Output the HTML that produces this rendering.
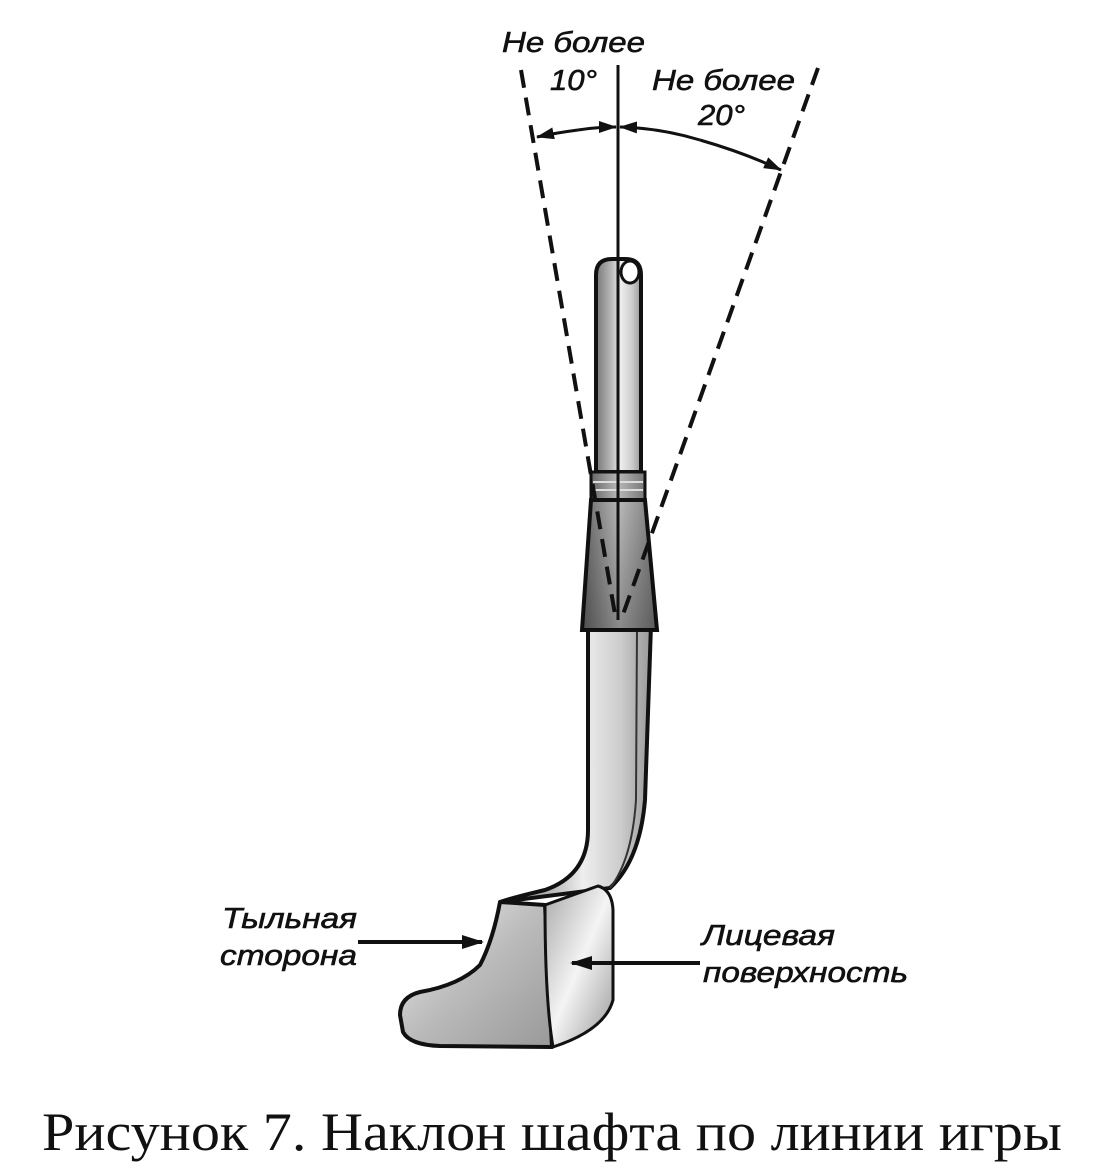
<!DOCTYPE html>
<html><head><meta charset="utf-8"><style>body{margin:0;background:#fff}svg{display:block}
.l{font-family:"Liberation Sans",sans-serif;font-style:italic;font-size:29px;fill:#111;stroke:#111;stroke-width:0.6px}
.c{font-family:"Liberation Serif",serif;font-size:54px;fill:#111}
</style></head><body>
<svg width="1119" height="1175" viewBox="0 0 1119 1175" xmlns="http://www.w3.org/2000/svg">
<defs>
<linearGradient id="g1" x1="0" x2="1" y1="0" y2="0"><stop offset="0" stop-color="#777"/><stop offset="0.35" stop-color="#bbb"/><stop offset="0.55" stop-color="#eee"/><stop offset="0.8" stop-color="#ccc"/><stop offset="1" stop-color="#999"/></linearGradient>
<linearGradient id="g2" x1="0" x2="1" y1="0" y2="0"><stop offset="0" stop-color="#666"/><stop offset="0.5" stop-color="#b8b8b8"/><stop offset="1" stop-color="#777"/></linearGradient>
<linearGradient id="g5" x1="0" x2="0" y1="0" y2="1"><stop offset="0" stop-color="#000" stop-opacity="0"/><stop offset="1" stop-color="#000" stop-opacity="0.25"/></linearGradient>
<linearGradient id="g3" x1="0" x2="1" y1="0" y2="1"><stop offset="0" stop-color="#eee"/><stop offset="0.5" stop-color="#bbb"/><stop offset="1" stop-color="#999"/></linearGradient>
<linearGradient id="g4" x1="0" x2="1" y1="0" y2="1"><stop offset="0" stop-color="#aaa"/><stop offset="0.5" stop-color="#f4f4f4"/><stop offset="1" stop-color="#999"/></linearGradient>
<marker id="ah" markerWidth="18" markerHeight="12" refX="17" refY="6" orient="auto" markerUnits="userSpaceOnUse"><path d="M0,0 L18,6 L0,12 z" fill="#111"/></marker>
<marker id="ah2" markerWidth="22" markerHeight="14" refX="20" refY="7" orient="auto" markerUnits="userSpaceOnUse"><path d="M0,0 L22,7 L0,14 z" fill="#111"/></marker>
</defs>
<path d="M588,625 L588,830 Q588,875 545,890 Q515,897 500,902 L610,888 Q640,860 645,800 L651,625 z" fill="url(#g1)" stroke="#111" stroke-width="4"/>
<path d="M637,628 L636,800 Q632,860 610,888" fill="none" stroke="#333" stroke-width="2"/>
<path d="M500,902 Q493,940 480,965 Q460,985 420,992 Q400,997 400,1015 L403,1032 Q410,1045 440,1046 L552,1047 L545,905 z" fill="url(#g3)" stroke="#111" stroke-width="4" stroke-linejoin="round"/>
<path d="M545,905 L598,886 Q612,890 613,910 L613,1000 Q605,1030 553,1047 Q545,1000 545,905 z" fill="url(#g4)" stroke="#111" stroke-width="3" stroke-linejoin="round"/>
<path d="M500,902 L545,905" stroke="#111" stroke-width="3"/>
<path d="M596,472 L596,275 Q596,259 612,259 L625,259 Q641,259 641,275 L641,472 z" fill="url(#g1)" stroke="#111" stroke-width="4"/>
<ellipse cx="630" cy="272" rx="9" ry="11" fill="#fff" stroke="#111" stroke-width="3"/>
<path d="M591,472 L645,472 L645,500 L591,500 z" fill="url(#g2)" stroke="#111" stroke-width="3"/>
<path d="M593,482 L643,482 M593,490 L643,490" stroke="#ddd" stroke-width="2"/>
<path d="M591,500 L645,500 L657,630 L582,630 z" fill="url(#g2)" stroke="#111" stroke-width="4"/>
<path d="M591,500 L645,500 L657,630 L582,630 z" fill="url(#g5)"/>
<line x1="618" y1="65" x2="618" y2="620" stroke="#111" stroke-width="3"/>
<line x1="521" y1="70" x2="616" y2="620" stroke="#111" stroke-width="4" stroke-dasharray="18,10"/>
<line x1="818" y1="68" x2="621" y2="620" stroke="#111" stroke-width="4" stroke-dasharray="18,10"/>
<path d="M578,130 Q598,127 616,127" fill="none" stroke="#111" stroke-width="3" marker-end="url(#ah)"/>
<path d="M578,130 Q555,133 537,137" fill="none" stroke="#111" stroke-width="3" marker-end="url(#ah)"/>
<path d="M700,140 Q660,128 620,127" fill="none" stroke="#111" stroke-width="3" marker-end="url(#ah)"/>
<path d="M700,140 Q745,153 781,170" fill="none" stroke="#111" stroke-width="3" marker-end="url(#ah)"/>
<line x1="358" y1="942" x2="482" y2="942" stroke="#111" stroke-width="4" marker-end="url(#ah2)"/>
<line x1="700" y1="963" x2="572" y2="963" stroke="#111" stroke-width="4" marker-end="url(#ah2)"/>
<text class="l" x="502" y="52" textLength="143" lengthAdjust="spacingAndGlyphs">Не более</text>
<text class="l" x="550" y="90" textLength="47" lengthAdjust="spacingAndGlyphs">10°</text>
<text class="l" x="652" y="90" textLength="143" lengthAdjust="spacingAndGlyphs">Не более</text>
<text class="l" x="698" y="125" textLength="47" lengthAdjust="spacingAndGlyphs">20°</text>
<text class="l" x="222" y="928" textLength="135" lengthAdjust="spacingAndGlyphs">Тыльная</text>
<text class="l" x="220" y="965" textLength="137" lengthAdjust="spacingAndGlyphs">сторона</text>
<text class="l" x="702" y="945" textLength="133" lengthAdjust="spacingAndGlyphs">Лицевая</text>
<text class="l" x="703" y="982" textLength="205" lengthAdjust="spacingAndGlyphs">поверхность</text>
<text class="c" x="42" y="1150" textLength="1020" lengthAdjust="spacingAndGlyphs">Рисунок 7. Наклон шафта по линии игры</text>
</svg>
</body></html>
